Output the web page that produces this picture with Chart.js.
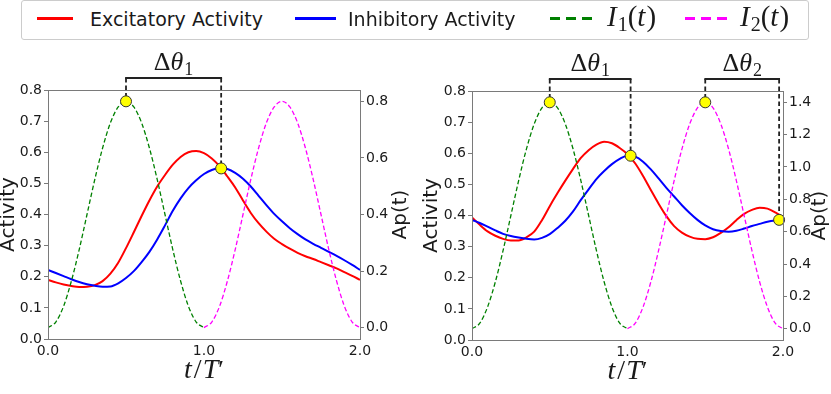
<!DOCTYPE html>
<html>
<head>
<meta charset="utf-8">
<script src="https://cdn.jsdelivr.net/npm/chart.js@4.4.1/dist/chart.umd.min.js"></script>
<style>
  html, body { margin: 0; padding: 0; background: #fff; }
  #wrap { position: relative; width: 831px; height: 394px; overflow: hidden; font-family: 'DejaVu Sans', sans-serif; color: #1a1a1a; }
  canvas { position: absolute; top: 0; }
  #legend { position: absolute; left: 21px; top: 0px; width: 788px; height: 40px; box-sizing: border-box; border: 1.5px solid #cccccc; border-radius: 3px; background: #fff; }
  #handles { position: absolute; left: 0; top: 0; }
  .lab { position: absolute; top: 8px; font-size: 19px; line-height: 22px; white-space: nowrap; }
  .math { position: absolute; top: 1px; font-family: 'Liberation Serif', serif; font-size: 29px; line-height: 31px; white-space: nowrap; }
  .math i { padding-right: 1px; }
  .math sub { font-style: normal; font-size: 20px; vertical-align: -5px; line-height: 0; }
</style>
</head>
<body>
<div id="wrap">
  <canvas id="left" width="415" height="394" style="left:0"></canvas>
  <canvas id="right" width="416" height="394" style="left:415px"></canvas>
  <div id="legend"></div>
  <svg id="handles" width="831" height="40">
    <line x1="37" y1="18.5" x2="73" y2="18.5" stroke="#ff0000" stroke-width="3"/>
    <line x1="295" y1="18.5" x2="336" y2="18.5" stroke="#0000ff" stroke-width="3"/>
    <line x1="550" y1="18.5" x2="595" y2="18.5" stroke="#008000" stroke-width="3" stroke-dasharray="10 6"/>
    <line x1="685" y1="18.5" x2="730" y2="18.5" stroke="#ff00ff" stroke-width="3" stroke-dasharray="10 6"/>
  </svg>
  <span class="lab" style="left:90px">Excitatory Activity</span>
  <span class="lab" style="left:348px">Inhibitory Activity</span>
  <span class="math" style="left:607px"><i>I</i><sub>1</sub>(<i>t</i>)</span>
  <span class="math" style="left:740px"><i>I</i><sub>2</sub>(<i>t</i>)</span>
</div>
<script>
// time axis t/T' (shared by the activity curves)
const T = [0.00, 0.05, 0.10, 0.15, 0.20, 0.25, 0.30, 0.35, 0.40, 0.45,
           0.50, 0.55, 0.60, 0.65, 0.70, 0.75, 0.80, 0.85, 0.90, 0.95,
           1.00, 1.05, 1.10, 1.15, 1.20, 1.25, 1.30, 1.35, 1.40, 1.45,
           1.50, 1.55, 1.60, 1.65, 1.70, 1.75, 1.80, 1.85, 1.90, 1.95, 2.00];
// the two input pulses each cover one half
const pulseT1 = [0.00, 0.05, 0.10, 0.15, 0.20, 0.25, 0.30, 0.35, 0.40, 0.45, 0.50,
                 0.55, 0.60, 0.65, 0.70, 0.75, 0.80, 0.85, 0.90, 0.95, 1.00];
const pulseT2 = [1.00, 1.05, 1.10, 1.15, 1.20, 1.25, 1.30, 1.35, 1.40, 1.45, 1.50,
                 1.55, 1.60, 1.65, 1.70, 1.75, 1.80, 1.85, 1.90, 1.95, 2.00];

// left panel
const excLeft = [0.190, 0.182, 0.175, 0.170, 0.167, 0.168, 0.173, 0.186, 0.210, 0.245,
                 0.292, 0.343, 0.395, 0.445, 0.490, 0.527, 0.560, 0.585, 0.600, 0.604,
                 0.597, 0.580, 0.555, 0.522, 0.487, 0.445, 0.405, 0.372, 0.345, 0.322,
                 0.305, 0.290, 0.277, 0.266, 0.257, 0.247, 0.237, 0.227, 0.215, 0.203, 0.190];
const inhLeft = [0.222, 0.212, 0.202, 0.192, 0.183, 0.176, 0.171, 0.168, 0.169, 0.179,
                 0.196, 0.218, 0.247, 0.280, 0.320, 0.365, 0.412, 0.452, 0.485, 0.510,
                 0.530, 0.543, 0.549, 0.546, 0.534, 0.515, 0.490, 0.460, 0.430, 0.402,
                 0.378, 0.356, 0.337, 0.320, 0.306, 0.293, 0.280, 0.267, 0.253, 0.238, 0.222];
const i1Left = [0.000, 0.020, 0.076, 0.165, 0.276, 0.400, 0.524, 0.635, 0.724, 0.780, 0.800,
                0.780, 0.724, 0.635, 0.524, 0.400, 0.276, 0.165, 0.076, 0.020, 0.000];
const i2Left = [0.000, 0.020, 0.076, 0.165, 0.276, 0.400, 0.524, 0.635, 0.724, 0.780, 0.800,
                0.780, 0.724, 0.635, 0.524, 0.400, 0.276, 0.165, 0.076, 0.020, 0.000];

// right panel
const excRight = [0.394, 0.370, 0.349, 0.335, 0.325, 0.320, 0.320, 0.330, 0.348, 0.385,
                  0.430, 0.472, 0.512, 0.550, 0.585, 0.610, 0.628, 0.637, 0.632, 0.617,
                  0.597, 0.567, 0.527, 0.482, 0.438, 0.398, 0.366, 0.345, 0.332, 0.325,
                  0.324, 0.330, 0.344, 0.362, 0.385, 0.405, 0.418, 0.425, 0.422, 0.410, 0.394];
const inhRight = [0.386, 0.376, 0.364, 0.352, 0.341, 0.334, 0.329, 0.325, 0.323, 0.328,
                  0.340, 0.360, 0.383, 0.413, 0.450, 0.484, 0.517, 0.543, 0.565, 0.582,
                  0.592, 0.589, 0.573, 0.548, 0.519, 0.489, 0.461, 0.433, 0.408, 0.386,
                  0.368, 0.356, 0.350, 0.348, 0.351, 0.358, 0.366, 0.373, 0.380, 0.384, 0.386];
const i1Right = [0.000, 0.034, 0.134, 0.289, 0.484, 0.700, 0.916, 1.111, 1.266, 1.366, 1.400,
                 1.366, 1.266, 1.111, 0.916, 0.700, 0.484, 0.289, 0.134, 0.034, 0.000];
const i2Right = [0.000, 0.034, 0.134, 0.289, 0.484, 0.700, 0.916, 1.111, 1.266, 1.366, 1.400,
                 1.366, 1.266, 1.111, 0.916, 0.700, 0.484, 0.289, 0.134, 0.034, 0.000];

// phase-lag brackets: from the input peak (Ap axis) to the inhibitory peak (Activity axis)
const bracketsLeft = [
  {sub: '1', a: {x: 0.50, y: 0.800, axis: 'y2'}, b: {x: 1.11, y: 0.548, axis: 'y'}}
];
const bracketsRight = [
  {sub: '1', a: {x: 0.50, y: 1.400, axis: 'y2'}, b: {x: 1.02, y: 0.592, axis: 'y'}},
  {sub: '2', a: {x: 1.50, y: 1.400, axis: 'y2'}, b: {x: 1.975, y: 0.386, axis: 'y'}}
];

// ticks and ranges
const xTicks = [0, 1, 2];
const actTicks = [0, 0.1, 0.2, 0.3, 0.4, 0.5, 0.6, 0.7, 0.8];
const apTicksLeft = [0, 0.2, 0.4, 0.6, 0.8];
const apTicksRight = [0, 0.2, 0.4, 0.6, 0.8, 1.0, 1.2, 1.4];
const apRangeLeft = [-0.04, 0.84];
const apRangeRight = [-0.07, 1.47];

const ink = '#1a1a1a';
const spine = '#7a7a7a';
const serif = '"Liberation Serif", serif';

function pts(ts, vs) {
  return ts.map((t, i) => ({x: t, y: vs[i]}));
}

function dotsOn(brackets, axis) {
  const out = [];
  brackets.forEach(b => {
    [b.a, b.b].forEach(p => { if (p.axis === axis) out.push({x: p.x, y: p.y}); });
  });
  return out;
}

function fixedTicks(values) {
  return function (scale) { scale.ticks = values.map(v => ({value: v})); };
}

function mathText(ctx, parts, cx, baseline) {
  let w = 0;
  parts.forEach(p => { ctx.font = p.font; w += ctx.measureText(p.text).width + (p.gap || 0); });
  let x = cx - w / 2;
  ctx.textAlign = 'left';
  ctx.textBaseline = 'alphabetic';
  parts.forEach(p => {
    ctx.font = p.font;
    ctx.fillText(p.text, x, baseline + (p.dy || 0));
    x += ctx.measureText(p.text).width + (p.gap || 0);
  });
}

const decorations = {
  id: 'decorations',
  beforeDatasetsDraw(chart, args, opts) {
    const ctx = chart.ctx, area = chart.chartArea, xs = chart.scales.x;
    const top = area.top - 12;
    ctx.save();
    opts.brackets.forEach(b => {
      const xa = xs.getPixelForValue(b.a.x), ya = chart.scales[b.a.axis].getPixelForValue(b.a.y);
      const xb = xs.getPixelForValue(b.b.x), yb = chart.scales[b.b.axis].getPixelForValue(b.b.y);
      ctx.strokeStyle = '#222';
      ctx.lineWidth = 1.8;
      ctx.setLineDash([4.5, 3]);
      ctx.beginPath();
      ctx.moveTo(xa, top); ctx.lineTo(xa, ya);
      ctx.moveTo(xb, top); ctx.lineTo(xb, yb);
      ctx.stroke();
      ctx.setLineDash([]);
      ctx.lineWidth = 1.8;
      ctx.beginPath();
      ctx.moveTo(xa - 0.9, top); ctx.lineTo(xb + 0.9, top);
      ctx.stroke();
      ctx.fillStyle = ink;
      mathText(ctx, [
        {text: 'Δ', font: '26px ' + serif},
        {text: 'θ', font: 'italic 26px ' + serif, gap: 1},
        {text: b.sub, font: '18px ' + serif, dy: 5}
      ], (xa + xb) / 2, top - 8);
    });
    ctx.restore();
  },
  afterDatasetsDraw(chart) {
    const ctx = chart.ctx, a = chart.chartArea;
    ctx.save();
    ctx.strokeStyle = spine;
    ctx.lineWidth = 1;
    ctx.strokeRect(Math.round(a.left) + 0.5, Math.round(a.top) + 0.5,
                   Math.round(a.right - a.left), Math.round(a.bottom - a.top));
    ctx.restore();
  },
  afterDraw(chart, args, opts) {
    const ctx = chart.ctx, a = chart.chartArea;
    const midY = (a.top + a.bottom) / 2;
    ctx.save();
    ctx.fillStyle = ink;
    ctx.font = '20px "DejaVu Sans"';
    ctx.textAlign = 'center';
    ctx.textBaseline = 'middle';
    [[a.left - opts.leftTitleGap, 'Activity'], [a.right + opts.rightTitleGap, 'Ap(t)']].forEach(([x, s]) => {
      ctx.save();
      ctx.translate(x, midY);
      ctx.rotate(-Math.PI / 2);
      ctx.fillText(s, 0, 0);
      ctx.restore();
    });
    mathText(ctx, [
      {text: 't', font: 'italic 28px ' + serif, gap: 2},
      {text: '/', font: '28px ' + serif, gap: 1},
      {text: 'T', font: 'italic 28px ' + serif},
      {text: '′', font: '26px ' + serif}
    ], (a.left + a.right) / 2, a.bottom + 39);
    ctx.restore();
  }
};

function buildPanel(id, p) {
  const tickFont = {family: 'DejaVu Sans', size: 14};
  return new Chart(document.getElementById(id), {
    type: 'line',
    data: {
      datasets: [
        {data: pts(T, p.exc), borderColor: '#ff0000', borderWidth: 2, yAxisID: 'y', order: 4},
        {data: pts(T, p.inh), borderColor: '#0000ff', borderWidth: 2, yAxisID: 'y', order: 3},
        {data: pts(pulseT1, p.i1), borderColor: '#008000', borderWidth: 1.3, borderDash: [4.5, 2.5], yAxisID: 'y2', order: 2},
        {data: pts(pulseT2, p.i2), borderColor: '#ff00ff', borderWidth: 1.3, borderDash: [4.5, 2.5], yAxisID: 'y2', order: 2},
        {type: 'scatter', data: dotsOn(p.brackets, 'y2'), yAxisID: 'y2', order: 0, clip: false,
         pointRadius: 5.5, backgroundColor: '#ffff00', borderColor: '#333', borderWidth: 1},
        {type: 'scatter', data: dotsOn(p.brackets, 'y'), yAxisID: 'y', order: 0, clip: false,
         pointRadius: 5.5, backgroundColor: '#ffff00', borderColor: '#333', borderWidth: 1}
      ]
    },
    options: {
      responsive: false,
      animation: false,
      devicePixelRatio: 1,
      layout: {padding: {top: p.top, left: 0, right: 0, bottom: 0}},
      elements: {
        point: {radius: 0, hoverRadius: 0},
        line: {cubicInterpolationMode: 'monotone', fill: false}
      },
      plugins: {
        legend: {display: false},
        tooltip: {enabled: false},
        decorations: {brackets: p.brackets, leftTitleGap: p.leftTitleGap, rightTitleGap: p.rightTitleGap}
      },
      scales: {
        x: {
          type: 'linear', min: 0, max: 2,
          afterBuildTicks: fixedTicks(xTicks),
          afterFit: s => { s.height = p.xHeight; },
          grid: {drawOnChartArea: false, drawTicks: false},
          border: {display: false},
          ticks: {padding: 4, color: ink, font: tickFont, autoSkip: false, maxRotation: 0,
                  callback: v => v.toFixed(1)}
        },
        y: {
          position: 'left', min: 0, max: 0.8,
          afterBuildTicks: fixedTicks(actTicks),
          afterFit: s => { s.width = p.leftWidth; },
          grid: {drawOnChartArea: false, tickLength: 4, color: spine},
          border: {display: false},
          ticks: {padding: 2, color: ink, font: tickFont, callback: v => v.toFixed(1)}
        },
        y2: {
          position: 'right', min: p.apRange[0], max: p.apRange[1],
          afterBuildTicks: fixedTicks(p.apTicks),
          afterFit: s => { s.width = p.rightWidth; },
          grid: {drawOnChartArea: false, tickLength: 4, color: spine},
          border: {display: false},
          ticks: {padding: 2, color: ink, font: tickFont, callback: v => v.toFixed(1)}
        }
      }
    },
    plugins: [decorations]
  });
}

buildPanel('left', {
  exc: excLeft, inh: inhLeft, i1: i1Left, i2: i2Left, brackets: bracketsLeft,
  apTicks: apTicksLeft, apRange: apRangeLeft,
  top: 90, xHeight: 55, leftWidth: 48, rightWidth: 55, leftTitleGap: 39, rightTitleGap: 41
});
buildPanel('right', {
  exc: excRight, inh: inhRight, i1: i1Right, i2: i2Right, brackets: bracketsRight,
  apTicks: apTicksRight, apRange: apRangeRight,
  top: 91, xHeight: 54, leftWidth: 57, rightWidth: 48, leftTitleGap: 40, rightTitleGap: 37
});
</script>
</body>
</html>
